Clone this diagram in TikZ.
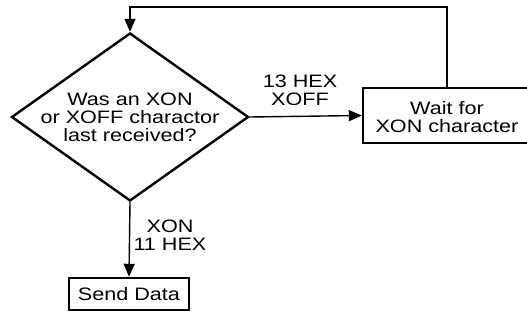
\documentclass[tikz,border=0pt]{standalone}
\usepackage{fontspec}
\setmainfont[FakeStretch=1.2]{Liberation Sans}
\usetikzlibrary{shapes.geometric,arrows.meta}
\begin{document}
\begin{tikzpicture}[x=1pt,y=-1pt,
  txt/.style={font=\fontsize{18}{18}\selectfont, align=center, inner sep=0pt},
  procbox/.style={draw, line width=2.4pt, txt},
  decision/.style={draw, diamond, line width=2.4pt, inner sep=0pt},
  conn/.style={line width=1.4pt, -{Triangle[length=13pt,width=11pt]}}]
\useasboundingbox (0,0) rectangle (527,320);
\node[decision, minimum width=237pt, minimum height=168pt] (d) at (130,117) {};
\node[txt] (dt) at (d.center) {Was an XON\\or XOFF charactor\\last received?};
\node[procbox, minimum width=180pt, minimum height=55pt] (w) at (453,115.5) {};
\node[txt] (wt) at (447,117) {Wait for\\XON character};
\node[procbox, minimum width=120pt, minimum height=32pt] (s) at (129,294) {Send Data};
\coordinate (topy) at (0,7);
\coordinate (wtop) at (447,88);
\draw[conn] (d.east) -- (w.west);
\draw[conn] (d.south) -- (s.north);
\draw[conn] (wtop) |- (d.north |- topy) -- (d.north);
\node[txt] (l1) at (300,90) {13 HEX\\XOFF};
\node[txt] (l2) at (170,235) {XON\\11 HEX};
\end{tikzpicture}
\end{document}
